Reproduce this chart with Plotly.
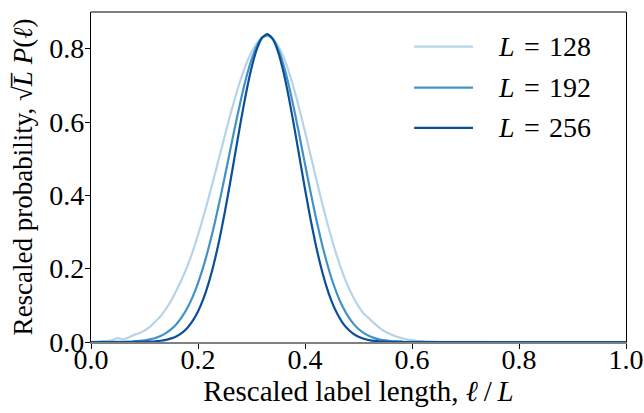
import plotly.graph_objects as go

# ---- data ----
x_core = [round(i * 0.01, 2) for i in range(66)]
x_tail = [0.70, 0.75, 0.80, 0.85, 0.90, 0.95, 1.00]
x_vals = x_core + x_tail

y_L128 = [0.0010, 0.0014, 0.0020, 0.0028, 0.0050, 0.0105, 0.0075, 0.0120, 0.0190, 0.0240,
          0.0310, 0.0410, 0.0550, 0.0700, 0.0900, 0.1130, 0.1420, 0.1720, 0.2060, 0.2464,
          0.2917, 0.3412, 0.3940, 0.4493, 0.5058, 0.5625, 0.6175, 0.6695, 0.7167, 0.7577,
          0.7909, 0.8152, 0.8298, 0.8340, 0.8265, 0.8071, 0.7765, 0.7360, 0.6873, 0.6324,
          0.5733, 0.5120, 0.4505, 0.3906, 0.3336, 0.2808, 0.2328, 0.1901, 0.1535, 0.1225,
          0.0970, 0.0770, 0.0640, 0.0500, 0.0380, 0.0280, 0.0210, 0.0150, 0.0110, 0.0075,
          0.0050, 0.0034, 0.0023, 0.0015, 0.0010, 0.0007,
          0.0002, 0.0, 0.0, 0.0, 0.0, 0.0, 0.0]

y_L192 = [0.0, 0.0, 0.0001, 0.0001, 0.0002, 0.0004, 0.0006, 0.0011, 0.0018, 0.0029,
          0.0046, 0.0072, 0.0110, 0.0165, 0.0242, 0.0349, 0.0492, 0.0682, 0.0926, 0.1232,
          0.1607, 0.2055, 0.2576, 0.3166, 0.3816, 0.4507, 0.5219, 0.5926, 0.6596, 0.7198,
          0.7700, 0.8075, 0.8303, 0.8370, 0.8261, 0.7980, 0.7544, 0.6979, 0.6318, 0.5597,
          0.4853, 0.4117, 0.3418, 0.2778, 0.2209, 0.1718, 0.1308, 0.0975, 0.0711, 0.0507,
          0.0354, 0.0242, 0.0162, 0.0106, 0.0068, 0.0043, 0.0026, 0.0016, 0.0009, 0.0005,
          0.0003, 0.0002, 0.0001, 0.0, 0.0, 0.0,
          0.0, 0.0, 0.0, 0.0, 0.0, 0.0, 0.0]

y_L256 = [0.0, 0.0, 0.0, 0.0, 0.0, 0.0, 0.0, 0.0, 0.0001, 0.0003,
          0.0006, 0.0011, 0.0019, 0.0034, 0.0059, 0.0098, 0.0159, 0.0251, 0.0384, 0.0574,
          0.0833, 0.1175, 0.1613, 0.2154, 0.2796, 0.3531, 0.4336, 0.5180, 0.6018, 0.6800,
          0.7474, 0.7989, 0.8306, 0.8399, 0.8260, 0.7901, 0.7350, 0.6651, 0.5853, 0.5010,
          0.4171, 0.3377, 0.2659, 0.2037, 0.1518, 0.1100, 0.0775, 0.0531, 0.0354, 0.0229,
          0.0145, 0.0089, 0.0053, 0.0031, 0.0017, 0.0009, 0.0005, 0.0002, 0.0001, 0.0,
          0.0, 0.0, 0.0, 0.0, 0.0, 0.0,
          0.0, 0.0, 0.0, 0.0, 0.0, 0.0, 0.0]

L_values = [128, 192, 256]
series = [y_L128, y_L192, y_L256]
colors = ["#b6d4e9", "#4292c6", "#0b4f98"]

x_ticks = [0.0, 0.2, 0.4, 0.6, 0.8, 1.0]
y_ticks = [0.0, 0.2, 0.4, 0.6, 0.8]

FONT = "Liberation Serif, Times New Roman, serif"

fig = go.Figure()
for L, ys, c in zip(L_values, series, colors):
    fig.add_trace(go.Scatter(x=x_vals, y=ys, mode="lines", name=f"L = {L}",
                             line=dict(color=c, width=2.2, shape="spline", smoothing=0.6),
                             showlegend=False))

# manual legend (matplotlib-like long line samples)
legend_y = [0.895, 0.771, 0.649]
for L, c, ly in zip(L_values, colors, legend_y):
    fig.add_shape(type="line", xref="paper", yref="paper", x0=0.604, x1=0.714,
                  y0=ly, y1=ly, line=dict(color=c, width=2.2))
    fig.add_annotation(xref="paper", yref="paper", x=0.757, y=ly, xanchor="left",
                       yanchor="middle", showarrow=False,
                       text=f"<i>L</i>\u2004=\u2004{L}",
                       font=dict(family=FONT, size=28, color="black"))

# top spine
fig.add_shape(type="line", xref="paper", yref="paper", x0=0, x1=1, y0=1, y1=1,
              line=dict(color="black", width=1.2))

fig.update_layout(
    width=644, height=413,
    margin=dict(l=91, r=18, t=12, b=71),
    paper_bgcolor="white", plot_bgcolor="white",
    font=dict(family=FONT, size=28, color="black"),
    xaxis=dict(range=[0, 1], tickvals=x_ticks, tickformat=".1f",
               showgrid=False, zeroline=False,
               showline=True, linecolor="#808080", linewidth=2.2, layer="below traces",
               ticks="outside", ticklen=5, tickwidth=1.2, tickcolor="black",
               ticklabelstandoff=-14,
               tickfont=dict(family=FONT, size=28),
               title=dict(text="Rescaled label length, <i>ℓ</i>\u2009/\u2009<i>L</i>",
                          font=dict(family=FONT, size=29), standoff=4),
               automargin=False),
    yaxis=dict(range=[0, 0.9], tickvals=y_ticks, tickformat=".1f",
               showgrid=False, zeroline=False,
               showline=True, linecolor="black", linewidth=1.2, mirror=True,
               ticks="outside", ticklen=5, tickwidth=1.2, tickcolor="black",
               ticklabelstandoff=-5,
               tickfont=dict(family=FONT, size=28),
               title=dict(text="Rescaled probability, √<i>L̅</i> <i>P</i>(<i>ℓ</i>)",
                          font=dict(family=FONT, size=27), standoff=8),
               automargin=False),
)

fig.write_html("out.html", config={"displayModeBar": False},
               post_script="document.body.style.margin='0';")
